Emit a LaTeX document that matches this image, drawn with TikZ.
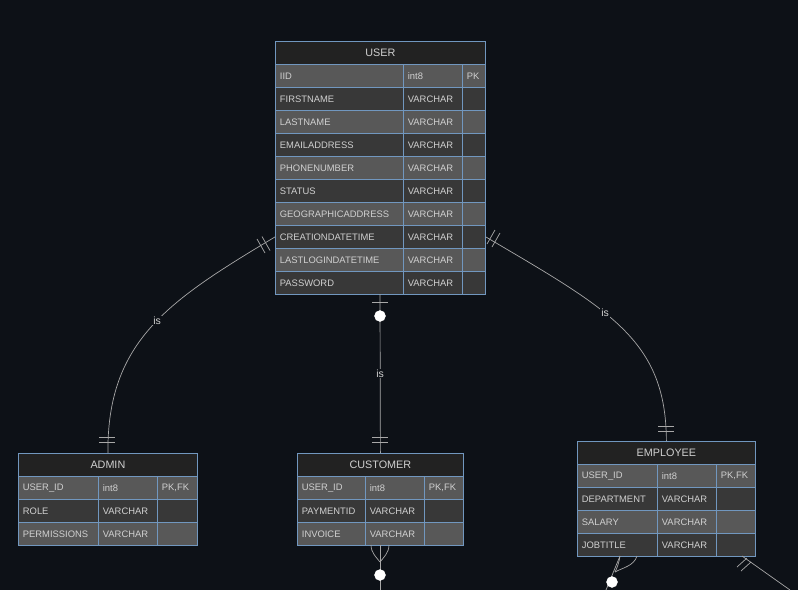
\documentclass[tikz,border=0pt]{standalone}
\usepackage{fontspec}
\setmainfont{Liberation Sans}
\definecolor{bg}{HTML}{0D1117}
\definecolor{hdr}{HTML}{222222}
\definecolor{rowA}{HTML}{585858}
\definecolor{rowB}{HTML}{383838}
\definecolor{bord}{HTML}{7197BF}
\definecolor{txt}{HTML}{D0D0D0}
\definecolor{ln}{HTML}{A8A8A8}
\newcommand\ertbl[8]{%
  \pgfmathsetmacro\tw{#5+#6+#7}%
  \node[hdrcell, minimum width=\tw pt, anchor=north west] (#1) at (#3,#4) {#2};
  \foreach \a/\b/\c [count=\i] in {#8} {
    \ifodd\i\def\rc{rowA}\else\def\rc{rowB}\fi
    \pgfmathsetmacro\yy{#4+23*\i}
    \pgfmathsetmacro\xb{#3+#5}
    \pgfmathsetmacro\xc{#3+#5+#6}
    \node[cell, fill=\rc, minimum width=#5pt, text width=#5pt-9pt, anchor=north west] (#1-a\i) at (#3,\yy) {\a};
    \node[cell, fill=\rc, minimum width=#6pt, text width=#6pt-9pt, anchor=north west] (#1-b\i) at (\xb,\yy) {\b};
    \node[cell, fill=\rc, minimum width=#7pt, text width=#7pt-9pt, anchor=north west] (#1-c\i) at (\xc,\yy) {\c};
  }
}
\begin{document}
\begin{tikzpicture}[x=1pt,y=-1pt,
  cell/.style={draw=bord, line width=0.8pt, minimum height=23pt, inner sep=0pt, align=left,
    text=txt, font=\fontsize{9.4}{11}\selectfont},
  hdrcell/.style={draw=bord, line width=0.8pt, fill=hdr, minimum height=23pt, inner sep=0pt,
    text=txt, font=\fontsize{10.8}{12}\selectfont},
  conn/.style={draw=ln, line width=0.7pt},
  lbl/.style={fill=bg, inner sep=1pt, text=txt, font=\fontsize{10.5}{12}\selectfont},
  dot/.style={circle, fill=white, draw=white, minimum size=11pt, inner sep=0pt}]
\fill[bg] (0,0) rectangle (798,590);
\useasboundingbox (0,0) rectangle (798,590);

\ertbl{user}{USER}{275}{41}{128}{59}{23}{IID/int8/PK, FIRSTNAME/VARCHAR/, LASTNAME/VARCHAR/, EMAILADDRESS/VARCHAR/, PHONENUMBER/VARCHAR/, STATUS/VARCHAR/, GEOGRAPHICADDRESS/VARCHAR/, CREATIONDATETIME/VARCHAR/, LASTLOGINDATETIME/VARCHAR/, PASSWORD/VARCHAR/}
\ertbl{admin}{ADMIN}{18}{453}{80}{59}{40}{USER\_ID/int8/PK{,}FK, ROLE/VARCHAR/, PERMISSIONS/VARCHAR/}
\ertbl{cust}{CUSTOMER}{297}{453}{68}{59}{39}{USER\_ID/int8/PK{,}FK, PAYMENTID/VARCHAR/, INVOICE/VARCHAR/}
\ertbl{emp}{EMPLOYEE}{577}{441}{80}{59}{39}{USER\_ID/int8/PK{,}FK, DEPARTMENT/VARCHAR/, SALARY/VARCHAR/, JOBTITLE/VARCHAR/}

% USER -> ADMIN
\coordinate (ua) at (user-a8.west);
\draw[conn] (ua) .. controls (170,300) and (107,340) .. node[lbl, pos=0.47] (isA) {is} (admin.north);
\draw[conn] (262,236.5) -- (270,250.5) (257,239) -- (265,253);
\draw[conn] (99,437) -- (115,437) (99,442) -- (115,442);

% USER -> EMPLOYEE
\coordinate (ue) at (user-c8.east);
\draw[conn] (ue) .. controls (610,310) and (666,340) .. node[lbl, pos=0.41] (isE) {is} (emp.north);
\draw[conn] (495,230) -- (487,244) (500,233) -- (492,247);
\draw[conn] (658,426) -- (674,426) (658,431) -- (674,431);

% USER -> CUSTOMER
\coordinate (ub) at (380,294);
\draw[conn] (ub) -- node[lbl, pos=0.5] (isC) {is} (cust.north);
\draw[conn] (372,302) -- (388,302) (372,437) -- (388,437) (372,442) -- (388,442);
\node[dot] (d1) at (380,316) {};

% CUSTOMER bottom
\coordinate (cb) at (380,545);
\coordinate (cend) at (380,590);
\draw[conn] (cb) -- (cend);
\draw[conn] (371,545) .. controls (371,553) and (377,558) .. (380,562);
\draw[conn] (389,545) .. controls (389,553) and (383,558) .. (380,562);
\node[dot] (d2) at (380,575) {};

% EMPLOYEE bottom
\coordinate (eb) at (620,556);
\coordinate (eend) at (606,590);
\draw[conn] (eb) -- (eend);
\draw[conn] (637,556) .. controls (634,566) and (622,568) .. (615,572);
\draw[conn] (620,556) .. controls (619,563) and (617,568) .. (615,572);
\node[dot] (d3) at (612,582) {};

% EMPLOYEE right
\coordinate (er) at (742,556);
\coordinate (erend) at (790,590);
\draw[conn] (er) -- (erend);
\draw[conn] (737,567) -- (747,558) (741,571) -- (751,562);
\end{tikzpicture}
\end{document}
